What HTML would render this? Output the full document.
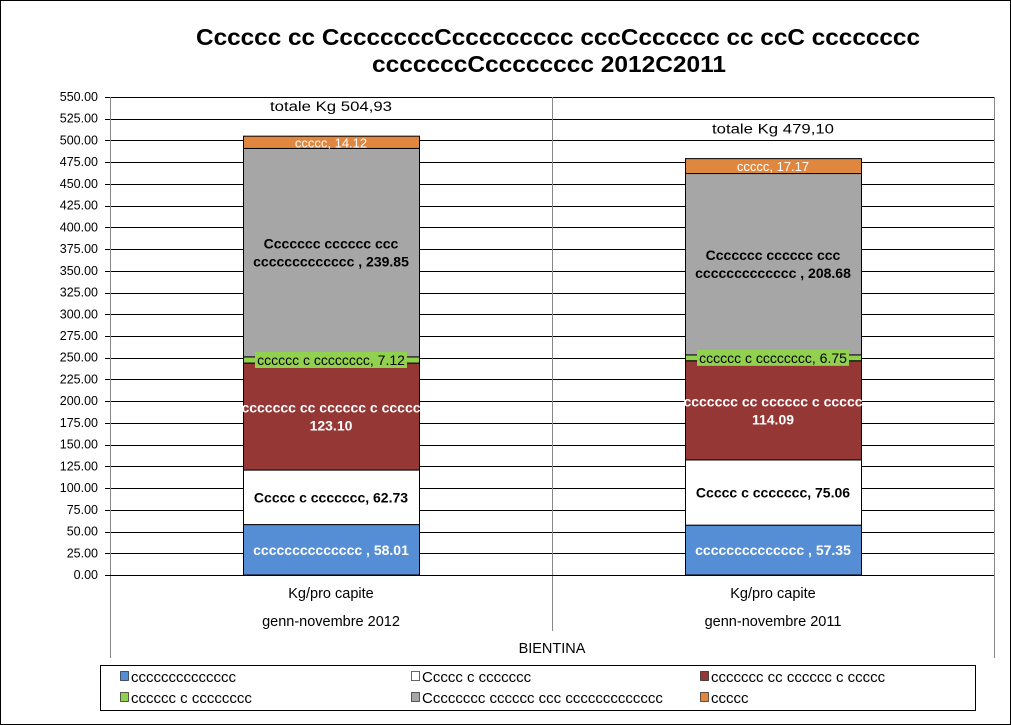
<!DOCTYPE html>
<html><head><meta charset="utf-8"><style>
body{margin:0;background:#fff;}
svg{display:block;font-family:"Liberation Sans",Arial,sans-serif;}
</style></head><body>
<svg id="c" width="1011" height="725">
<rect x="0.5" y="0.5" width="1010" height="724" fill="#fff" stroke="#000"/>
<text x="558" y="45" text-anchor="middle" font-size="23" font-weight="bold" textLength="724" lengthAdjust="spacingAndGlyphs">Cccccc cc CcccccccCccccccccc cccCcccccc cc ccC cccccccc</text>
<text x="549" y="72" text-anchor="middle" font-size="23" font-weight="bold" textLength="354" lengthAdjust="spacingAndGlyphs">cccccccCcccccccc 2012C2011</text>
<g id="grid"></g><g id="bars"></g><g id="labels"></g>
<rect x="100.5" y="665.5" width="875" height="45" fill="#fff" stroke="#000"/>
<g id="legend"></g>
</svg>
<script>
const categories=["genn-novembre 2012","genn-novembre 2011"];
const seriesNames=["cccccccccccccc","Ccccc c ccccccc","ccccccc cc cccccc c ccccc","cccccc c cccccccc","Cccccccc cccccc ccc ccccccccccccc","ccccc"];
const s1=[58.01,57.35];
const s2=[62.73,75.06];
const s3=[123.10,114.09];
const s4=[7.12,6.75];
const s5=[239.85,208.68];
const s6=[14.12,17.17];
const totals=["totale Kg 504,93","totale Kg 479,10"];
const yTicks=[0,25,50,75,100,125,150,175,200,225,250,275,300,325,350,375,400,425,450,475,500,525,550];
const series=[s1,s2,s3,s4,s5,s6];
const colors=["#558ED5","#FFFFFF","#953735","#92D050","#A6A6A6","#E0873F"];
const NS="http://www.w3.org/2000/svg";
const X0=110,X1=994,Y0=575,Y1=97,YMAX=550;
const y=v=>Y0-(v/YMAX)*(Y0-Y1);
const cw=(X1-X0)/categories.length;
const cx=i=>X0+cw*(i+0.5);
function mk(t,a,p){const e=document.createElementNS(NS,t);for(const k in a)e.setAttribute(k,a[k]);p.appendChild(e);return e;}
const G=document.getElementById('grid'),B=document.getElementById('bars'),L=document.getElementById('labels'),LG=document.getElementById('legend');
mk('rect',{x:X0+0.5,y:Y1+0.5,width:X1-X0,height:Y0-Y1,fill:'#fff',stroke:'#888'},G);
yTicks.forEach(t=>{
 const l=mk('line',{x1:X0-5,x2:X1,y1:Math.round(y(t))+0.5,y2:Math.round(y(t))+0.5,stroke:'#000'},G);
 
 
 const tx=mk('text',{x:98,y:y(t)+4,'text-anchor':'end','font-size':12.5},G);tx.textContent=t.toFixed(2);
 
 
});
mk('line',{x1:X0+0.5,x2:X0+0.5,y1:Y1,y2:658,stroke:'#888'},G);
mk('line',{x1:X1+0.5,x2:X1+0.5,y1:Y1,y2:658,stroke:'#888'},G);
mk('line',{x1:X0+cw+0.5,x2:X0+cw+0.5,y1:Y1,y2:631,stroke:'#888'},G);
mk('line',{x1:X0,x2:X1,y1:Y0+0.5,y2:Y0+0.5,stroke:'#000'},G);
const fmt=v=>v.toFixed(2);
categories.forEach((c,i)=>{
 const t1=mk('text',{x:cx(i),y:598,'text-anchor':'middle','font-size':14.5},G);t1.textContent="Kg/pro capite";
 
 
 const t2=mk('text',{x:cx(i),y:626,'text-anchor':'middle','font-size':14.5},G);t2.textContent=c;
 
 
 let acc=0;const bw=176,bx=cx(i)-bw/2;
 series.forEach((s,k)=>{
  const v=s[i];const top=y(acc+v),bot=y(acc);
  const r=mk('rect',{x:bx+0.5,y:top,width:bw,height:bot-top,fill:colors[k],stroke:'#000','stroke-width':1},B);
  
  
  const mid=(top+bot)/2;
  let lines,col='#000',fw='bold',fs=14;
  if(k==0){lines=[seriesNames[0]+" , "+fmt(v)];col='#fff';}
  else if(k==1){lines=[seriesNames[1]+", "+fmt(v)];}
  else if(k==2){lines=[seriesNames[2],fmt(v)];col='#fff';}
  else if(k==3){lines=[seriesNames[3]+", "+fmt(v)];fw='normal';
   mk('rect',{x:cx(i)-76,y:mid-8,width:152,height:16,fill:'#92D050'},L);}
  else if(k==4){lines=["Ccccccc cccccc ccc","ccccccccccccc , "+fmt(v)];}
  else {lines=[seriesNames[5]+", "+fmt(v)];col='#fff';fw='normal';fs=13;}
  lines.forEach((ln,j)=>{
   const t=mk('text',{x:cx(i),y:mid+5+(j-(lines.length-1)/2)*18,'text-anchor':'middle','font-size':fs,'font-weight':fw,fill:col},L);
   t.textContent=ln;
   
   
  });
  acc+=v;
 });
 const ty=y(acc)-26;
 mk('rect',{x:cx(i)-65,y:ty-11,width:130,height:16,fill:'#fff'},L);
 const tt=mk('text',{x:cx(i),y:ty+1,'text-anchor':'middle','font-size':13.5,textLength:122,lengthAdjust:'spacingAndGlyphs'},L);tt.textContent=totals[i];
 
 
});
const bt=mk('text',{x:(X0+X1)/2,y:653,'text-anchor':'middle','font-size':14.5},G);bt.textContent="BIENTINA";


const lx=[120,411,700],ly=[677,698];
seriesNames.forEach((n,k)=>{
 const px=lx[k%3],py=ly[Math.floor(k/3)];
 mk('rect',{x:px+0.5,y:py-5.5,width:8,height:9,fill:colors[k],stroke:'#000','stroke-width':0.6},LG);
 const t=mk('text',{x:px+11,y:py+5,'font-size':15},LG);t.textContent=n;
 
 
});
</script>
</body></html>
